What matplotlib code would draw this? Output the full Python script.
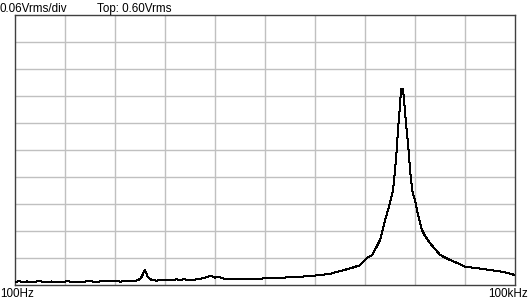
import numpy as np
import matplotlib
matplotlib.use('Agg')
import matplotlib.pyplot as plt

# spectrum (Hz, Vrms)
freq_hz = [100, 106, 112, 118, 125, 132, 140, 148, 156, 165, 175, 185, 196, 207, 219,
           232, 245, 259, 274, 290, 307, 325, 343, 363, 384, 406, 430, 455, 481, 509,
           538, 560, 575, 588, 600, 612, 625, 645, 675, 710, 750, 790, 830, 880, 930,
           980, 1030, 1080, 1130, 1180, 1230, 1290, 1350, 1420, 1500, 1580, 1660, 1750,
           1850, 1950, 2050, 2200, 2350, 2570, 2900, 3300, 3630, 4100, 4600, 5130, 6000,
           6760, 7800, 8910, 10230, 11750, 12590, 12940, 13870, 14450, 15490, 16600,
           17780, 18540, 19060, 19500, 19860, 20420, 20700, 21280, 21670, 22180, 22910,
           23440, 24320, 25120, 26180, 27670, 28840, 30900, 33110, 35480, 38020, 40740,
           44870, 50120, 57540, 70800, 85000, 100000]
vrms = [0.0075, 0.0080, 0.0072, 0.0078, 0.0070, 0.0076, 0.0082, 0.0074, 0.0070, 0.0078,
        0.0072, 0.0068, 0.0075, 0.0081, 0.0073, 0.0070, 0.0066, 0.0074, 0.0085, 0.0078,
        0.0071, 0.0080, 0.0088, 0.0079, 0.0092, 0.0084, 0.0076, 0.0082, 0.0089, 0.0095,
        0.0100, 0.0130, 0.0180, 0.0260, 0.0330, 0.0270, 0.0190, 0.0130, 0.0105, 0.0098,
        0.0108, 0.0100, 0.0115, 0.0102, 0.0128, 0.0108, 0.0130, 0.0112, 0.0120, 0.0110,
        0.0130, 0.0140, 0.0150, 0.0180, 0.0210, 0.0165, 0.0185, 0.0150, 0.0135, 0.0130,
        0.0125, 0.0130, 0.0128, 0.0127, 0.0140, 0.0150, 0.0158, 0.0165, 0.0175, 0.0184,
        0.0200, 0.0222, 0.0250, 0.0310, 0.0367, 0.0440, 0.0556, 0.0600, 0.0667, 0.0780,
        0.1000, 0.1440, 0.1820, 0.2110, 0.2560, 0.3000, 0.3440, 0.4000, 0.4350, 0.4350,
        0.4040, 0.3600, 0.3070, 0.2560, 0.2040, 0.1890, 0.1560, 0.1220, 0.1090, 0.0930,
        0.0800, 0.0670, 0.0610, 0.0556, 0.0490, 0.0407, 0.0380, 0.0333, 0.0290, 0.0222]

F_MIN, F_MAX = 100, 100000
V_DIV = 0.06
N_DIV = 10

fig = plt.figure(figsize=(5.3, 3.0), dpi=100, facecolor='white')
ax = fig.add_axes([15/530, 15/300, 500/530, 270/300])

ax.plot(freq_hz, vrms, color='black', linewidth=0.72, antialiased=False, zorder=3)

ax.set_xscale('log')
ax.set_xlim(F_MIN, F_MAX)
ax.set_ylim(0, V_DIV*N_DIV)

# 10 equal divisions on each axis
ax.set_xticks(10**np.linspace(np.log10(F_MIN), np.log10(F_MAX), N_DIV+1)[1:-1])
ax.set_xticks([], minor=True)
ax.set_yticks(np.arange(1, N_DIV)*V_DIV)
ax.grid(True, color='#c0c0c0', linewidth=1.0)
ax.tick_params(length=0, labelbottom=False, labelleft=False)
for s in ax.spines.values():
    s.set_color('#404040')
    s.set_linewidth(1.0)

font = dict(fontsize=8.4, family='Liberation Sans', color='black')
fig.text(0/530, 1 - 12/300, '0.06Vrms/div', **font)
fig.text(97/530, 1 - 12/300, 'Top: 0.60Vrms', **font)
fig.text(0/530, 3/300, '100Hz', **font)
fig.text(528/530, 3/300, '100kHz', ha='right', **font)

fig.savefig('out.png', dpi=100, facecolor='white')
